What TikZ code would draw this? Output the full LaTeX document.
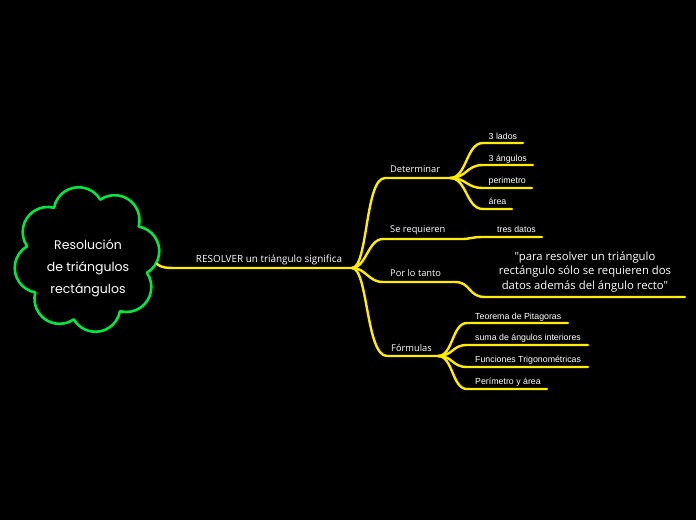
\documentclass[tikz,border=0pt]{standalone}
\usepackage{fontspec}
\setmainfont{Liberation Sans}
\newfontfamily\midfont{Open Sans}
\newfontfamily\cloudfont{Poppins}
\usetikzlibrary{calc}
\definecolor{br}{RGB}{255,236,0}
\definecolor{cg}{RGB}{0,232,64}
\begin{document}
\begin{tikzpicture}[x=1pt,y=-1pt,
  conn/.style={draw=br, line width=2.4pt, line cap=round},
  leaf/.style={text=white, font=\fontsize{8.8}{10}\selectfont, anchor=base west, inner sep=0pt},
  mid/.style={text=white, font=\midfont\fontsize{9.3}{11}\selectfont, anchor=base west, inner sep=0pt},
]
\fill[black] (0,0) rectangle (696,520);
% cloud
\coordinate (cc) at (87,259.5);
\draw[cg, line width=2.6pt, fill=black, line join=round]
  ($(cc)+(-10:48)+(-79.8:25)$)
  arc[start angle=-79.8, end angle=59.8, radius=25]
  arc[start angle=-34.8, end angle=104.8, radius=25]
  arc[start angle=10.2, end angle=149.8, radius=25]
  arc[start angle=55.2, end angle=194.8, radius=25]
  arc[start angle=100.2, end angle=239.8, radius=25]
  arc[start angle=145.2, end angle=284.8, radius=25]
  arc[start angle=190.2, end angle=329.8, radius=25]
  arc[start angle=235.2, end angle=374.8, radius=25] -- cycle;
\node[text=white, align=center, font=\cloudfont\fontsize{12.5}{22}\selectfont, inner sep=0pt] (root) at (88,268)
  {Resolución\\de triángulos\\rectángulos};
% main
\node[text=white, font=\midfont\fontsize{9.9}{11}\selectfont, inner sep=0pt, anchor=base] (main) at (269,262) {RESOLVER un triángulo significa};
\coordinate (c0) at (157,264);
\coordinate (h) at (352,268);
\draw[conn] (c0) .. controls (162,268) and (166,268) .. (180,268) -- (h);
% Determinar
\coordinate (d0) at (385,178);
\coordinate (d1) at (450,178);
\draw[conn] (h) .. controls (368,268) and (365,178) .. (d0) -- (d1);
\node[mid] (det) at (390,172.5) {Determinar};
\coordinate (l1) at (483,143); \coordinate (l1e) at (523,143);
\coordinate (l2) at (483,165); \coordinate (l2e) at (533,165);
\coordinate (l3) at (483,188); \coordinate (l3e) at (532,188);
\coordinate (l4) at (483,209); \coordinate (l4e) at (512,209);
\draw[conn] (d1) .. controls (467,178) and (466,143) .. (l1) -- (l1e);
\draw[conn] (d1) .. controls (467,178) and (466,165) .. (l2) -- (l2e);
\draw[conn] (d1) .. controls (467,178) and (466,188) .. (l3) -- (l3e);
\draw[conn] (d1) .. controls (467,178) and (466,209) .. (l4) -- (l4e);
\node[leaf] (t1) at (488.5,139) {3 lados};
\node[leaf] (t2) at (488.5,161) {3 ángulos};
\node[leaf] (t3) at (488.5,183.5) {perimetro};
\node[leaf] (t4) at (488.5,204.5) {área};
% Se requieren
\coordinate (s0) at (383,239);
\coordinate (s1) at (462,239);
\coordinate (s2) at (482,237);
\coordinate (s3) at (542,237);
\draw[conn] (h) .. controls (366,268) and (368,239) .. (s0) -- (s1) .. controls (470,239) and (472,237) .. (s2) -- (s3);
\node[mid] (sr) at (390,232.5) {Se requieren};
\node[leaf] (td) at (497,232.5) {tres datos};
% Por lo tanto
\coordinate (p0) at (383,282);
\coordinate (p1) at (455,282);
\coordinate (p2) at (485,297);
\coordinate (p3) at (685,297);
\draw[conn] (h) .. controls (366,268) and (368,282) .. (p0) -- (p1) .. controls (471,282) and (468,297) .. (p2) -- (p3);
\node[mid] (plt) at (390,276.5) {Por lo tanto};
\node[text=white, align=center, font=\midfont\fontsize{11.3}{14.6}\selectfont, inner sep=0pt] (quote) at (585,272)
  {"para resolver un triángulo\\rectángulo sólo se requieren dos\\datos además del ángulo recto"};
% Formulas
\coordinate (f0) at (387,356);
\coordinate (f1) at (438,356);
\draw[conn] (h) .. controls (368,268) and (366,356) .. (f0) -- (f1);
\node[mid] (form) at (391,351.5) {Fórmulas};
\coordinate (g1) at (467,323); \coordinate (g1e) at (568,323);
\coordinate (g2) at (467,345); \coordinate (g2e) at (588,345);
\coordinate (g3) at (467,367); \coordinate (g3e) at (588,367);
\coordinate (g4) at (467,389); \coordinate (g4e) at (547,389);
\draw[conn] (f1) .. controls (453,356) and (452,323) .. (g1) -- (g1e);
\draw[conn] (f1) .. controls (453,356) and (452,345) .. (g2) -- (g2e);
\draw[conn] (f1) .. controls (453,356) and (452,367) .. (g3) -- (g3e);
\draw[conn] (f1) .. controls (453,356) and (452,389) .. (g4) -- (g4e);
\node[leaf] (u1) at (475,319) {Teorema de Pitagoras};
\node[leaf] (u2) at (475,340.5) {suma de ángulos interiores};
\node[leaf] (u3) at (475,362.5) {Funciones Trigonométricas};
\node[leaf] (u4) at (475,384) {Perímetro y área};
\end{tikzpicture}
\end{document}
